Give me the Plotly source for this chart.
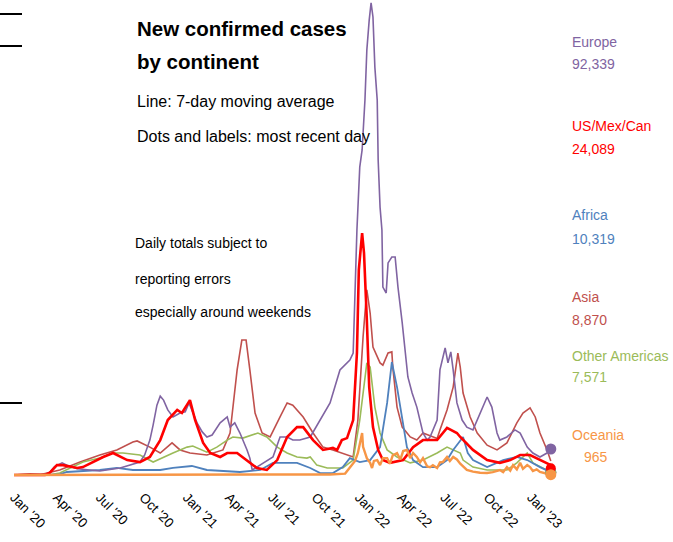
import plotly.graph_objects as go

# ---------------- data (thousands of cases, 7-day average) ----------------
eu_dates = ["2020-01-01","2020-03-07","2020-03-17","2020-03-27","2020-04-12","2020-04-22","2020-05-14","2020-06-10","2020-07-01","2020-08-13","2020-09-09","2020-09-24","2020-10-04","2020-10-15","2020-10-22","2020-10-30","2020-11-06","2020-11-13","2020-11-22","2020-12-03","2020-12-18","2020-12-29","2021-01-06","2021-01-14","2021-01-23","2021-02-03","2021-02-13","2021-02-24","2021-03-13","2021-03-28","2021-04-03","2021-04-13","2021-04-24","2021-05-09","2021-05-15","2021-05-20","2021-05-30","2021-06-12","2021-07-03","2021-07-18","2021-08-02","2021-08-14","2021-08-29","2021-09-20","2021-10-11","2021-11-01","2021-11-22","2021-12-13","2021-12-20","2021-12-28","2022-01-03","2022-01-08","2022-01-14","2022-01-18","2022-01-23","2022-01-27","2022-01-31","2022-02-04","2022-02-09","2022-02-11","2022-02-15","2022-02-19","2022-02-21","2022-02-28","2022-03-04","2022-03-12","2022-03-19","2022-03-25","2022-04-03","2022-04-09","2022-04-15","2022-04-24","2022-05-04","2022-05-17","2022-05-26","2022-06-01","2022-06-16","2022-06-22","2022-07-03","2022-07-09","2022-07-15","2022-07-20","2022-07-28","2022-08-08","2022-08-18","2022-08-31","2022-09-15","2022-09-30","2022-10-10","2022-10-21","2022-10-27","2022-11-11","2022-11-28","2022-12-09","2022-12-24","2023-01-05","2023-01-20","2023-02-04","2023-02-12"]
eu_vals = [0,2,10,30,43,35,22,16,14,25,38,46,71,124,178,248,280,266,231,206,220,224,256,220,185,153,135,142,185,206,170,185,149,89,60,18,28,43,64,135,135,124,124,135,195,256,373,408,433,870,1093,1154,1331,1509,1615,1676,1626,1448,1331,1118,951,870,667,646,753,774,774,667,540,433,348,291,241,149,124,135,195,373,451,398,437,373,256,195,170,160,220,277,241,149,124,135,160,149,99,78,64,78,92]

us_dates = ["2020-01-01","2020-03-07","2020-03-17","2020-04-01","2020-04-14","2020-05-14","2020-05-26","2020-06-16","2020-07-08","2020-07-29","2020-08-28","2020-09-24","2020-10-15","2020-11-06","2020-11-22","2020-12-12","2020-12-22","2021-01-08","2021-01-19","2021-02-05","2021-02-20","2021-03-13","2021-03-28","2021-04-18","2021-05-09","2021-05-30","2021-06-20","2021-07-12","2021-08-02","2021-08-23","2021-09-05","2021-09-26","2021-10-17","2021-11-07","2021-11-16","2021-11-26","2021-12-07","2021-12-20","2021-12-28","2022-01-01","2022-01-08","2022-01-12","2022-01-18","2022-01-23","2022-01-31","2022-02-11","2022-02-21","2022-03-08","2022-04-05","2022-04-26","2022-05-17","2022-06-16","2022-07-07","2022-07-28","2022-08-04","2022-08-31","2022-09-30","2022-10-27","2022-11-18","2022-12-09","2022-12-30","2023-01-20","2023-02-04","2023-02-12"]
us_vals = [0,0.5,8,35,35,25,28,46,64,78,53,46,64,124,195,231,220,266,195,114,78,64,78,78,53,25,18,53,135,170,170,124,89,96,89,124,131,195,433,728,859,788,550,312,170,89,53,43,53,99,124,124,167,149,135,89,53,43,53,71,71,53,43,35]

af_dates = ["2020-01-01","2020-04-07","2020-04-22","2020-07-01","2020-08-06","2020-09-09","2020-11-06","2020-12-03","2021-01-12","2021-02-13","2021-04-24","2021-06-06","2021-07-03","2021-07-24","2021-08-23","2021-09-20","2021-10-11","2021-11-07","2021-11-28","2021-12-13","2022-01-03","2022-01-25","2022-02-15","2022-03-02","2022-03-12","2022-03-23","2022-04-03","2022-04-13","2022-04-26","2022-05-17","2022-06-16","2022-07-07","2022-07-20","2022-08-04","2022-08-10","2022-08-20","2022-08-31","2022-09-30","2022-11-03","2022-12-02","2022-12-24","2023-01-20","2023-02-10","2023-02-12"]
af_vals = [0,2,10.7,17.8,25,17.8,17.8,25,32,17.8,10.7,17.8,43,43,43,25,7,7,28,60,46,53,99,256,401,312,195,99,53,28,28,53,89,124,135,78,53,28,53,64,53,28,12,10.3]

as_dates = ["2020-01-01","2020-01-22","2020-02-04","2020-02-27","2020-04-07","2020-05-20","2020-07-01","2020-08-06","2020-09-09","2020-09-18","2020-10-15","2020-11-06","2020-12-01","2020-12-18","2021-01-08","2021-02-13","2021-03-19","2021-04-03","2021-04-18","2021-04-28","2021-05-07","2021-05-15","2021-05-26","2021-06-10","2021-06-27","2021-07-18","2021-08-02","2021-08-14","2021-09-05","2021-09-26","2021-10-17","2021-11-07","2021-12-20","2021-12-30","2022-01-10","2022-01-18","2022-01-25","2022-01-31","2022-02-15","2022-02-21","2022-03-04","2022-03-12","2022-03-14","2022-03-23","2022-04-03","2022-04-20","2022-05-04","2022-05-17","2022-06-16","2022-06-22","2022-07-07","2022-07-20","2022-07-30","2022-08-04","2022-08-10","2022-08-25","2022-09-09","2022-09-30","2022-10-21","2022-11-11","2022-12-02","2022-12-15","2022-12-30","2023-01-10","2023-01-20","2023-02-04","2023-02-12"]
as_vals = [0,1,4,2,17.8,46,71,89,117,121,99,78,114,89,78,71,89,149,373,479,479,373,220,149,135,206,256,248,206,149,99,89,64,195,490,657,575,454,398,390,433,437,383,241,170,135,124,149,130,160,231,312,433,383,291,206,149,106,89,114,185,220,238,206,149,89,50]

oa_dates = ["2020-01-01","2020-03-17","2020-04-07","2020-04-29","2020-05-26","2020-07-01","2020-07-29","2020-08-19","2020-09-24","2020-10-22","2020-11-06","2020-12-03","2021-01-02","2021-01-14","2021-02-13","2021-03-06","2021-03-28","2021-04-09","2021-04-30","2021-05-22","2021-06-01","2021-06-20","2021-07-12","2021-08-02","2021-08-23","2021-09-13","2021-09-20","2021-10-04","2021-10-26","2021-11-28","2021-12-20","2022-01-03","2022-01-18","2022-01-25","2022-02-04","2022-02-15","2022-03-02","2022-03-23","2022-04-20","2022-05-17","2022-06-16","2022-07-07","2022-07-20","2022-08-04","2022-08-10","2022-08-31","2022-09-30","2022-11-11","2022-12-02","2022-12-24","2023-01-05","2023-02-04","2023-02-12"]
oa_vals = [0,0.5,7,25,46,60,78,78,71,46,58,78,99,103,81,99,124,135,131,142,149,135,99,78,64,60,64,35,25,25,53,195,398,383,241,149,89,64,43,53,78,99,89,78,53,28,18,18,43,78,43,18,10]

oc_dates = ["2020-01-01","2021-11-01","2021-12-03","2021-12-13","2021-12-24","2021-12-30","2022-01-03","2022-01-08","2022-01-10","2022-01-14","2022-01-18","2022-01-25","2022-01-29","2022-02-02","2022-02-09","2022-02-15","2022-02-21","2022-03-02","2022-03-08","2022-03-14","2022-03-23","2022-03-30","2022-04-05","2022-04-13","2022-04-20","2022-04-26","2022-05-04","2022-05-11","2022-05-17","2022-05-26","2022-06-01","2022-06-07","2022-06-16","2022-06-22","2022-06-28","2022-07-07","2022-07-13","2022-07-20","2022-07-28","2022-08-04","2022-08-10","2022-08-18","2022-08-31","2022-09-15","2022-09-30","2022-10-12","2022-10-27","2022-11-03","2022-11-11","2022-11-18","2022-11-24","2022-12-02","2022-12-09","2022-12-15","2022-12-24","2022-12-30","2023-01-05","2023-01-13","2023-01-20","2023-01-30","2023-02-10","2023-02-12"]
oc_vals = [0,2,5,28,50,78,110,149,100,78,60,43,25,50,53,35,60,60,40,70,78,55,85,89,60,78,64,45,60,30,28,35,25,45,46,64,50,64,55,40,30,17.8,12,8,7,10,17.8,10,28,15,35,20,43,22,35,28,14,20,10.7,6,3.6,1]

names = ["Europe", "US/Mex/Can", "Africa", "Asia", "Other Americas", "Oceania"]
latest_date = "2023-02-12"
latest_vals = [92.339, 24.089, 10.319, 8.870, 7.571, 0.965]
latest_text = ["92,339", "24,089", "10,319", "8,870", "7,571", "965"]
colors = ["#8064a2", "#ff0000", "#4f81bd", "#c0504d", "#9bbb59", "#f79646"]
widths = [1.6, 2.6, 1.8, 1.6, 1.6, 2.4]

series = [(eu_dates, eu_vals), (us_dates, us_vals), (af_dates, af_vals),
          (as_dates, as_vals), (oa_dates, oa_vals), (oc_dates, oc_vals)]

# ---------------- layout helpers ----------------
W, H = 673, 542
ML, MR, MT, MB = 10, 113, 0, 62
PW, PH = W - ML - MR, H - MT - MB


def px(x, y):
    return (x - ML) / PW, (H - MB - y) / PH


FONT = "Liberation Sans, Arial, sans-serif"

fig = go.Figure()

draw_order = [3, 4, 2, 0, 1, 5]
for i in draw_order:
    d, v = series[i]
    fig.add_trace(go.Scatter(x=d, y=v, mode="lines", name=names[i],
                             line=dict(color=colors[i], width=widths[i]),
                             showlegend=False, hoverinfo="skip"))

dot_order = [0, 3, 2, 4, 1, 5]
for i in dot_order:
    fig.add_trace(go.Scatter(x=[latest_date], y=[latest_vals[i]], mode="markers",
                             marker=dict(color=colors[i], size=11 if i != 1 else 10),
                             showlegend=False, cliponaxis=False, hoverinfo="skip"))

annotations = []


def add_text(text, x, y, size, color="#000000", bold=False):
    xp, yp = px(x, y)
    annotations.append(dict(text=text, x=xp, y=yp, xref="paper", yref="paper",
                            xanchor="left", yanchor="middle", showarrow=False,
                            font=dict(family=FONT, size=size, color=color,
                                      weight="bold" if bold else "normal")))


add_text("New confirmed cases", 135, 28, 20.5, bold=True)
add_text("by continent", 135, 62, 20.5, bold=True)
add_text("Line: 7-day moving average", 135, 101, 16)
add_text("Dots and labels: most recent day", 135, 136, 16)
add_text("Daily totals subject to", 133, 243, 14)
add_text("reporting errors", 133, 279, 14)
add_text("especially around weekends", 133, 312, 14)

label_y = [(42, 64), (126, 149), (215, 239), (297, 320), (356, 377), (435, 457)]
for i, (yn, yv) in enumerate(label_y):
    add_text(names[i], 570, yn, 14, colors[i])
    add_text(latest_text[i], 582 if i == 5 else 570, yv, 14, colors[i])

shapes = []
for yy in [14, 46, 403]:
    x0, y0 = px(0, yy)
    x1, _ = px(22, yy)
    shapes.append(dict(type="line", xref="paper", yref="paper", x0=x0, x1=x1,
                       y0=y0, y1=y0, line=dict(color="black", width=2)))

fig.update_layout(
    width=W, height=H,
    margin=dict(l=ML, r=MR, t=MT, b=MB),
    paper_bgcolor="white", plot_bgcolor="white",
    annotations=annotations, shapes=shapes,
    xaxis=dict(range=["2019-12-23 12:00", "2023-03-03 12:00"], type="date",
               tick0="2020-01-01", dtick="M3", tickformat="%b '%y", tickangle=45,
               showgrid=False, zeroline=False, showline=False, ticks="",
               ticklabelstandoff=6,
               tickfont=dict(family=FONT, size=13.5, color="black")),
    yaxis=dict(range=[-17.75, 1686.25], visible=False, showgrid=False, zeroline=False),
)

fig.write_html("out.html", config={"displayModeBar": False},
               post_script="document.body.style.margin='0px';")
